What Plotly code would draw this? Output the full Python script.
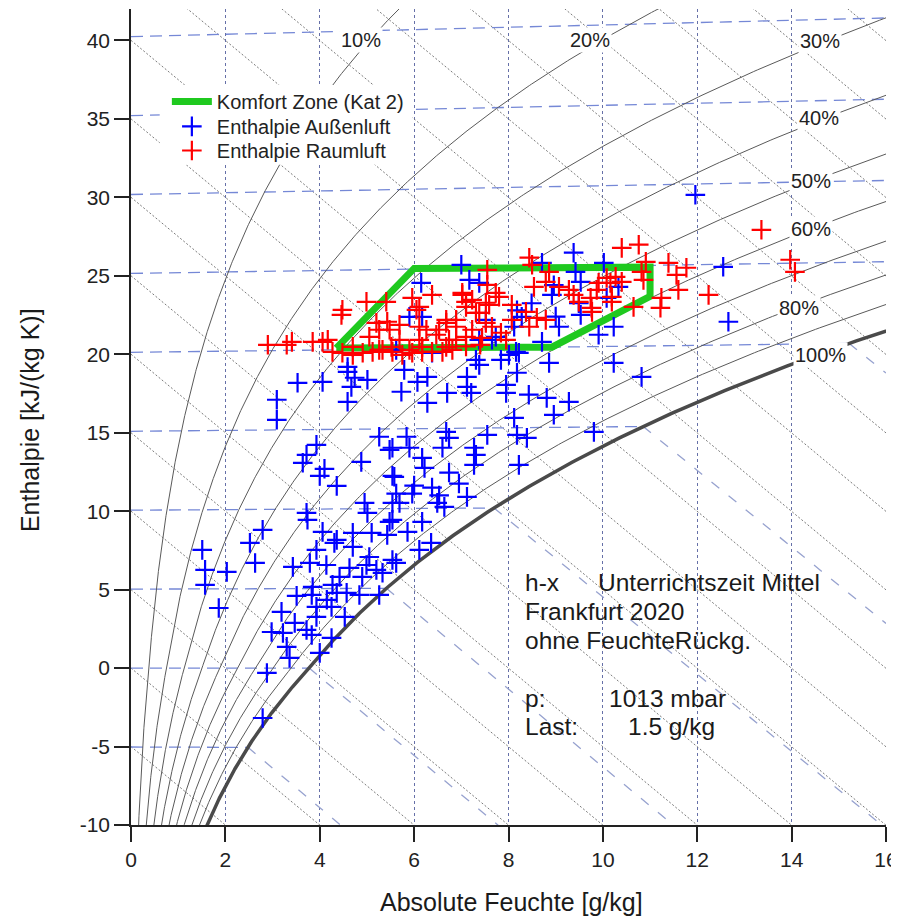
import numpy as np
import plotly.graph_objects as go

FONT = "Arial, 'Liberation Sans', Helvetica, sans-serif"

# ---------------- axes ----------------
x_range = [0, 16]
y_range = [-10, 42]
x_tick_vals = [0, 2, 4, 6, 8, 10, 12, 14, 16]
y_tick_vals = [-10, -5, 0, 5, 10, 15, 20, 25, 30, 35, 40]
y_tick_text = ["-10", "-5", "0", "5", "10", "15", "20", "25", "30", "35", "40"]

# ---------------- h-x background construction ----------------
rh_levels = [10, 20, 30, 40, 50, 60, 70, 80, 90]
rh_label_text = ["10%", "20%", "30%", "40%", "50%", "60%", "80%", "100%"]
rh_label_x = [4.88, 9.73, 14.61, 14.59, 14.40, 14.42, 14.16, 14.61]
rh_label_y = [40.0, 40.0, 39.94, 35.05, 31.01, 27.97, 22.94, 19.96]
isotherm_t = [-10, -5, 0, 5, 10, 15, 20, 25, 30, 35, 40]
enthalpy_h = [-10, -5, 0, 5, 10, 15, 20, 25, 30, 35, 40, 45, 50, 55, 60, 65, 70, 75, 80]
p_total = 101300.0

# ---------------- comfort zone (Kat 2) ----------------
zone_x = [4.35, 6.00, 11.00, 11.00, 8.92, 4.35]
zone_y = [20.39, 25.47, 25.55, 23.68, 20.45, 20.39]

# ---------------- outdoor air (blue) ----------------
blue_x = [4.59, 4.74, 4.67, 5.01, 3.53, 4.06, 4.59, 3.09, 3.09, 5.26, 5.48, 3.93, 3.72, 3.64, 4.88,
          4.10, 4.00, 4.36, 5.54, 4.95, 5.01, 3.72, 3.74, 2.79, 2.52, 5.48, 5.54, 4.06, 4.36, 4.70,
          5.10, 5.43, 1.51, 1.57, 2.03, 1.57, 2.63, 1.86, 3.43, 3.79, 3.93, 4.14, 4.31, 4.70, 4.42,
          4.63, 4.99, 5.20, 5.33, 4.90, 3.85, 4.27, 3.51, 3.83, 4.15, 4.36, 4.57, 4.84, 5.26, 3.93,
          4.25, 3.19, 3.93, 4.53, 3.47, 2.98, 3.22, 3.72, 3.83, 4.25, 3.30, 3.36, 4.00, 2.88, 2.79,
          5.54, 5.05,
          5.62, 5.79, 6.07, 6.28, 5.73, 6.28, 6.70, 7.12, 7.12, 7.21, 7.38, 7.84, 8.01, 8.22, 8.18,
          7.95, 7.95, 8.43, 8.81, 9.28, 8.96, 8.86, 8.12, 8.18, 8.39, 8.22, 9.81, 5.84, 5.90, 6.68,
          6.74, 6.60, 7.55, 7.27, 7.31, 7.27, 5.54, 6.17, 6.22, 5.58, 6.74, 6.95, 6.00, 5.96, 5.62,
          6.38, 6.53, 6.49, 6.64, 7.12, 5.69, 5.54, 6.17, 5.86, 6.11, 6.36, 5.62,
          12.66, 10.23, 9.91, 8.71, 10.23, 10.82,
          8.96, 9.49, 8.49, 8.18, 9.00, 11.96, 12.55, 10.02, 7.00, 6.15, 5.90, 6.17, 7.17, 7.38,
          6.38, 7.38, 7.31, 4.59, 9.38, 8.71, 9.42, 8.92, 9.53, 10.33, 10.08, 9.53, 9.07, 8.28,
          8.12, 7.65, 8.16, 7.52, 7.73]
blue_y = [18.88, 18.50, 17.92, 18.37, 18.18, 18.24, 16.97, 17.10, 15.82, 14.74, 13.91, 14.23, 13.59, 13.08, 13.14,
          12.70, 12.25, 11.61, 12.25, 10.53, 9.89, 9.89, 9.45, 8.81, 7.98, 9.32, 10.53, 8.68, 8.17, 8.62,
          8.62, 8.49, 7.53, 6.26, 6.13, 5.30, 6.70, 3.83, 6.45, 6.70, 7.53, 6.57, 7.98, 7.72, 5.81,
          6.38, 6.57, 6.26, 6.07, 5.81, 5.17, 5.30, 4.60, 4.66, 4.35, 4.79, 4.79, 4.66, 4.66, 3.90,
          3.90, 3.58, 3.26, 3.26, 2.88, 2.30, 2.24, 2.43, 2.11, 1.92, 1.35, 0.65, 0.97, -0.31, -3.18,
          6.89, 7.08,
          20.28, 19.00, 18.24, 18.56, 17.61, 16.90, 17.54, 18.56, 17.92, 17.54, 19.32, 19.64, 19.96, 20.09, 18.82,
          18.05, 17.54, 17.42, 17.22, 16.97, 16.14, 19.45, 15.95, 14.86, 14.67, 12.95, 15.05, 14.74, 14.04, 15.05,
          14.67, 14.04, 14.86, 14.04, 13.59, 12.95, 14.04, 13.40, 12.76, 12.19, 12.46, 11.76, 11.63, 11.12, 11.12,
          11.50, 11.00, 10.53, 10.27, 10.91, 10.53, 9.45, 9.32, 8.68, 7.53, 7.98, 6.70,
          22.07, 21.75, 21.24, 20.79, 19.45, 18.56,
          24.40, 23.25, 23.25, 22.80, 22.40, 30.16, 25.57, 25.82, 25.70, 24.55, 22.38, 22.38, 24.74, 24.55,
          20.09, 20.92, 19.64, 19.19, 26.47, 25.82, 25.25, 23.78, 24.61, 24.29, 23.59, 22.51, 21.75, 22.38,
          21.75, 20.92, 20.15, 22.19, 21.11]

# ---------------- room air (red) ----------------
red_x = [2.90, 3.30, 3.41, 3.85, 4.06, 4.27, 4.48, 4.70, 4.91, 5.12, 5.33, 5.54, 5.75, 5.96, 6.17,
         6.38, 6.60, 6.81, 4.48, 4.99, 5.41, 5.96, 6.11, 6.38, 7.02, 7.10, 5.20, 5.48, 5.69, 6.11,
         6.68, 6.89, 7.23, 7.52, 7.38, 6.47, 6.74, 7.10, 7.44, 4.46, 6.05, 5.43, 5.26, 5.05, 4.70,
         5.26, 5.52, 5.90, 6.17, 6.68, 6.89, 6.68, 6.89, 7.10, 7.02, 7.23, 7.31, 6.53, 6.26, 6.11,
         5.69, 4.17, 8.44, 8.50, 8.86, 8.79, 8.54, 9.07, 9.28, 9.38, 9.49, 9.76, 9.74, 9.87, 10.08,
         10.27, 10.40, 10.16, 10.40, 10.76, 10.91, 10.82, 10.86, 11.39, 11.77, 11.56, 11.60, 11.24, 11.22, 10.65,
         10.19, 7.55, 7.73, 7.80, 8.07, 7.59, 8.37, 8.60, 8.79, 7.52, 7.65, 7.84, 8.07, 8.44, 7.95,
         12.24, 13.36, 13.97, 14.07, 9.91, 9.77, 10.19, 7.55, 7.10, 7.40]
red_y = [20.60, 20.60, 20.79, 20.79, 20.79, 20.15, 20.09, 19.96, 20.09, 20.15, 20.28, 20.15, 19.96, 20.09, 20.15,
         20.15, 20.15, 20.28, 22.83, 23.34, 23.34, 23.59, 23.02, 23.78, 23.78, 23.34, 22.00, 21.56, 21.87, 21.75,
         22.19, 21.75, 21.56, 23.28, 22.64, 21.24, 20.92, 21.11, 21.04, 22.51, 22.83, 22.07, 21.56, 21.11, 20.47,
         20.28, 20.47, 20.28, 20.47, 20.47, 20.92, 22.00, 22.19, 23.02, 23.91, 23.47, 22.64, 21.56, 21.56, 20.92,
         20.92, 20.92, 26.15, 25.70, 25.25, 24.61, 24.29, 24.29, 24.10, 23.78, 23.34, 22.96, 23.59, 24.10, 24.86,
         24.93, 24.61, 24.55, 26.78, 26.98, 25.89, 25.25, 24.74, 25.82, 25.51, 25.06, 24.10, 23.59, 22.96, 23.02,
         23.66, 24.42, 23.91, 23.66, 23.15, 23.15, 22.70, 22.32, 22.19, 22.00, 21.75, 21.37, 22.19, 21.75, 20.92,
         23.78, 27.93, 26.02, 25.25, 24.55, 22.70, 23.34, 25.38, 20.50, 20.60]

info_lines = ["h-x", "Unterrichtszeit Mittel", "Frankfurt 2020", "ohne FeuchteRückg.",
              "p:", "1013 mbar", "Last:", "1.5 g/kg"]


# ---------------- psychrometric helpers ----------------
def p_sat(t):
    t = np.asarray(t, dtype=float)
    water = 611.2 * np.exp(17.62 * t / (243.12 + t))
    ice = 611.2 * np.exp(22.46 * t / (272.62 + t))
    ps = np.where(t >= 0, water, ice)
    return ps * np.where(t > 0, 1 + 9.3e-5 * t ** 2, 1.0)


def x_hum(t, phi):
    pv = phi * p_sat(t)
    return 622.0 * pv / (p_total - pv)


def y_skew(t, x):
    return 1.006 * t + 0.00186 * t * x


fig = go.Figure()

# enthalpy lines (dotted)
ex, ey = [], []
for h in enthalpy_h:
    xs = np.linspace(0, 16, 3)
    ex += list(xs) + [None]
    ey += list(h - 2.501 * xs) + [None]
fig.add_trace(go.Scatter(x=ex, y=ey, mode="lines", hoverinfo="skip", showlegend=False,
                         line=dict(color="#7a7a7a", width=1, dash="2px,2px")))

# isotherms (dashed) and fog isotherms
ix, iy, fx, fy = [], [], [], []
for t in isotherm_t:
    xs_sat = float(x_hum(t, 1.0))
    x_end = min(xs_sat, 16.0)
    ix += [0.0, x_end, None]
    iy += [y_skew(t, 0.0), y_skew(t, x_end), None]
    if xs_sat < 16.0:
        ys = y_skew(t, xs_sat)
        m = 0.00419 * t - 2.501
        fx += [xs_sat, 16.0, None]
        fy += [ys, ys + m * (16.0 - xs_sat), None]
fig.add_trace(go.Scatter(x=ix, y=iy, mode="lines", hoverinfo="skip", showlegend=False,
                         line=dict(color="#7588d6", width=1.3, dash="12px,7px")))
fig.add_trace(go.Scatter(x=fx, y=fy, mode="lines", hoverinfo="skip", showlegend=False,
                         line=dict(color="#97a2cf", width=1.3, dash="10px,12px")))

# relative humidity curves
tt = np.linspace(-15, 50, 700)
rx, ry = [], []
for phi in rh_levels:
    xv = x_hum(tt, phi / 100.0)
    yv = y_skew(tt, xv)
    keep = (xv <= 17) & (yv <= 44)
    rx += list(xv[keep]) + [None]
    ry += list(yv[keep]) + [None]
fig.add_trace(go.Scatter(x=rx, y=ry, mode="lines", hoverinfo="skip", showlegend=False,
                         line=dict(color="#5a5a5a", width=1)))
xv = x_hum(tt, 1.0)
yv = y_skew(tt, xv)
keep = (xv <= 17) & (yv <= 44)
fig.add_trace(go.Scatter(x=xv[keep], y=yv[keep], mode="lines", hoverinfo="skip", showlegend=False,
                         line=dict(color="#4a4a4a", width=3.5)))

# comfort zone
fig.add_trace(go.Scatter(x=zone_x, y=zone_y, mode="lines", name="Komfort Zone (Kat 2)",
                         legend="legend", line=dict(color="#1fc91f", width=7)))
# data
fig.add_trace(go.Scatter(x=blue_x, y=blue_y, mode="markers", name="Enthalpie Außenluft",
                         legend="legend2",
                         marker=dict(symbol="cross-thin", size=14, color="#0000ff",
                                     line=dict(color="#0000ff", width=2.2))))
fig.add_trace(go.Scatter(x=red_x, y=red_y, mode="markers", name="Enthalpie Raumluft",
                         legend="legend3",
                         marker=dict(symbol="cross-thin", size=14, color="#ff0000",
                                     line=dict(color="#ff0000", width=2.2))))

annotations = []
for txt, lx, ly in zip(rh_label_text, rh_label_x, rh_label_y):
    annotations.append(dict(x=lx, y=ly, xref="x", yref="y", text=txt, showarrow=False,
                            font=dict(size=20, family=FONT, color="#222"),
                            bgcolor="white", borderpad=1))

# info text block
info_pos = [(8.30, 5.43), (9.85, 5.43), (8.30, 3.58), (8.30, 1.73),
            (8.30, -1.97), (10.08, -1.97), (8.30, -3.75), (10.50, -3.75)]
for txt, (lx, ly) in zip(info_lines, info_pos):
    annotations.append(dict(x=lx, y=ly, xref="x", yref="y", text=txt, showarrow=False,
                            xanchor="left", yanchor="middle",
                            font=dict(size=24.5, family=FONT, color="#1a1a1a")))

# axis titles
annotations.append(dict(x=0.5046, y=-0.094, xref="paper", yref="paper",
                        text="Absolute Feuchte [g/kg]", showarrow=False,
                        xanchor="center", yanchor="middle",
                        font=dict(size=25, family=FONT, color="#1a1a1a")))
annotations.append(dict(x=-0.134, y=0.496, xref="paper", yref="paper",
                        text="Enthalpie [kJ/(kg K)]", showarrow=False, textangle=-90,
                        xanchor="center", yanchor="middle",
                        font=dict(size=25, family=FONT, color="#1a1a1a")))

legend_common = dict(x=0.0475, xanchor="left", yanchor="top", bgcolor="rgba(255,255,255,0)",
                     font=dict(size=20, family=FONT, color="#222"), itemwidth=40,
                     borderwidth=0, tracegroupgap=0)

fig.update_layout(
    width=891, height=909,
    margin=dict(l=123, r=11, t=1, b=92),
    paper_bgcolor="white", plot_bgcolor="white",
    font=dict(family=FONT, color="#222"),
    showlegend=True,
    legend=dict(y=0.9105, **legend_common),
    legend2=dict(y=0.8800, **legend_common),
    legend3=dict(y=0.8505, **legend_common),
    annotations=annotations,
    shapes=[dict(type="rect", xref="paper", yref="paper", x0=0.038, x1=0.3725,
                 y0=0.809, y1=0.907, fillcolor="white", line=dict(width=0), layer="above")],
    xaxis=dict(range=x_range, tickvals=x_tick_vals, showgrid=True, gridcolor="#6670a8",
               griddash="dot", gridwidth=1, zeroline=False, showline=True, linecolor="#222",
               linewidth=1.5, ticks="outside", ticklen=15, tickwidth=1.5, tickcolor="#222",
               ticklabeloverflow="allow",
               tickfont=dict(size=21, family=FONT, color="#222")),
    yaxis=dict(range=y_range, tickvals=y_tick_vals, ticktext=y_tick_text, showgrid=False,
               zeroline=False, showline=True, linecolor="#222", linewidth=1.5, ticks="outside",
               ticklen=15, tickwidth=1.5, tickcolor="#222", ticklabeloverflow="allow",
               tickfont=dict(size=21, family=FONT, color="#222")),
)

fig.write_html("out.html", config={"displayModeBar": False})
